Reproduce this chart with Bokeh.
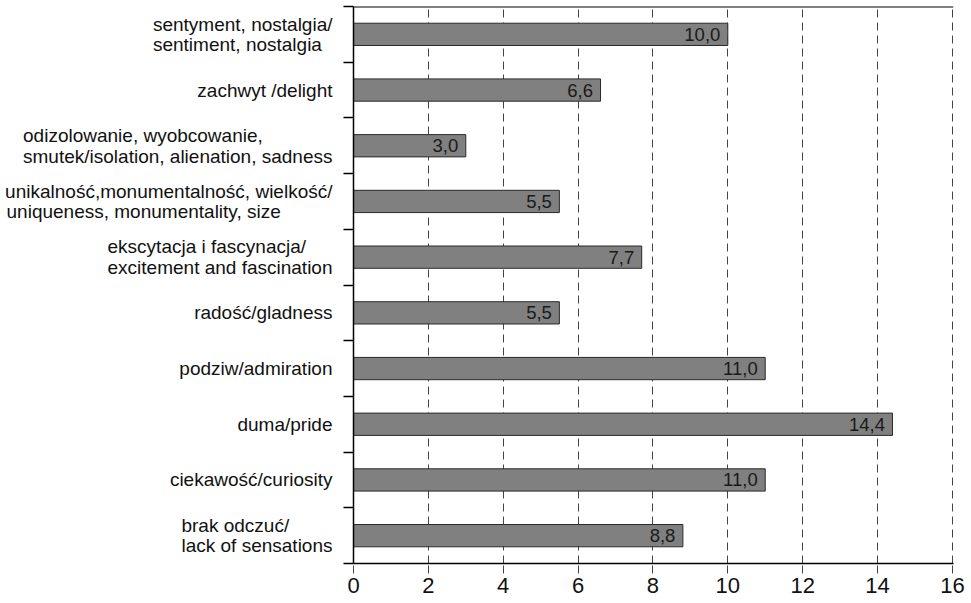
from bokeh.plotting import figure
from bokeh.layouts import row
from bokeh.models import FixedTicker, Range1d, Span, ColumnDataSource
from bokeh.embed import file_html
from bokeh.resources import INLINE
from bokeh.core.properties import value

# categories listed top to bottom (each entry: list of text lines)
categories = [
    ["sentyment, nostalgia/", "sentiment, nostalgia"],
    ["zachwyt /delight"],
    ["odizolowanie, wyobcowanie,", "smutek/isolation, alienation, sadness"],
    ["unikalność,monumentalność, wielkość/", "uniqueness, monumentality, size"],
    ["ekscytacja i fascynacja/", "excitement and fascination"],
    ["radość/gladness"],
    ["podziw/admiration"],
    ["duma/pride"],
    ["ciekawość/curiosity"],
    ["brak odczuć/", "lack of sensations"],
]
values = [10.0, 6.6, 3.0, 5.5, 7.7, 5.5, 11.0, 14.4, 11.0, 8.8]
value_labels = ["10,0", "6,6", "3,0", "5,5", "7,7", "5,5", "11,0", "14,4", "11,0", "8,8"]
x_ticks = [0, 2, 4, 6, 8, 10, 12, 14, 16]

FONT = "Liberation Sans"
LABEL_PX = 19

# Arial / Liberation Sans advance widths (per 1000 em) used to left-justify wrapped labels
_W = {" ": 278, ",": 278, "/": 278, ".": 278, "a": 556, "b": 556, "c": 500, "d": 556,
      "e": 556, "f": 278, "g": 556, "h": 556, "i": 222, "j": 222, "k": 500, "l": 222,
      "m": 833, "n": 556, "o": 556, "p": 556, "q": 556, "r": 333, "s": 500, "t": 278,
      "u": 556, "v": 500, "w": 722, "x": 500, "y": 500, "z": 500, "ś": 500, "ć": 500,
      "ń": 556, "ó": 556, "ą": 556, "ę": 556, "ł": 222, "ż": 500, "ź": 500}


def text_width(s, px):
    return sum(_W.get(ch, 556) for ch in s) * px / 1000.0


n = len(categories)
ypos = [n - 0.5 - i for i in range(n)]
boundaries = list(range(n + 1))

HEIGHT = 600
TOP = 6
BOTTOM = 37
LABEL_W = 333
AXIS_W = 20

# ---- left panel: category labels ----
frame_h = HEIGHT - TOP - BOTTOM
unit_px = frame_h / n
line_h = 20.5
lx, ly, lt = [], [], []
for yc, lines in zip(ypos, categories):
    widths = [text_width(s, LABEL_PX) for s in lines]
    wmax = max(widths)
    k = len(lines)
    for j, (s, w) in enumerate(zip(lines, widths)):
        dy_px = ((k - 1) / 2 - j) * line_h
        lx.append(LABEL_W - 1 - (wmax - w))
        ly.append(yc + dy_px / unit_px)
        lt.append(s)

left = figure(width=LABEL_W, height=HEIGHT, output_backend="svg", toolbar_location=None,
              x_range=Range1d(0, LABEL_W), y_range=Range1d(0, n),
              x_axis_location=None, y_axis_location=None,
              min_border_left=0, min_border_right=0, min_border_top=TOP, min_border_bottom=BOTTOM)
left.outline_line_color = None
left.grid.visible = False
left.text(x=lx, y=ly, text=lt, text_align="right", text_baseline="middle",
          text_font=value(FONT), text_font_size=f"{LABEL_PX}px", text_color="#111111")

# ---- main chart ----
p = figure(width=968 - LABEL_W, height=HEIGHT, output_backend="svg", toolbar_location=None,
           x_range=Range1d(0, 16.03), y_range=Range1d(0, n),
           min_border_left=AXIS_W, min_border_right=15, min_border_top=TOP,
           min_border_bottom=BOTTOM)
p.outline_line_color = None
p.background_fill_color = "white"

src = ColumnDataSource(dict(y=ypos, v=values, lab=value_labels, xl=[v - 0.2 for v in values]))
p.hbar(y="y", right="v", left=0, height=0.4, source=src,
       fill_color="#808080", line_color="#2a2a2a", line_width=1)
p.text(x="xl", y="y", text="lab", source=src, text_align="right", text_baseline="middle",
       text_font=value(FONT), text_font_size="18.5px", text_color="#1a1a1a")

# x axis
p.xaxis.ticker = FixedTicker(ticks=x_ticks)
p.xaxis.axis_line_color = "black"
p.xaxis.axis_line_width = 1.5
p.xaxis.major_tick_in = 0
p.xaxis.major_tick_out = 10
p.xaxis.major_tick_line_color = "#444444"
p.xaxis.major_tick_line_width = 1
p.xaxis.major_tick_line_dash = "8 5"
p.xaxis.minor_tick_line_color = None
p.xaxis.major_label_text_font = FONT
p.xaxis.major_label_text_font_size = "22px"
p.xaxis.major_label_text_color = "#111111"
p.xaxis.major_label_standoff = 4

# y axis: only boundary ticks
p.yaxis.ticker = FixedTicker(ticks=[], minor_ticks=boundaries)
p.yaxis.axis_line_color = "black"
p.yaxis.axis_line_width = 1.5
p.yaxis.major_tick_line_color = None
p.yaxis.minor_tick_in = 0
p.yaxis.minor_tick_out = 10
p.yaxis.minor_tick_line_color = "black"
p.yaxis.minor_tick_line_width = 1.5
p.yaxis.major_label_text_font_size = "0px"
p.yaxis.major_label_standoff = 0

# grid
p.ygrid.grid_line_color = None
p.xgrid.ticker = FixedTicker(ticks=x_ticks[1:])
p.xgrid.grid_line_color = "#444444"
p.xgrid.grid_line_dash = "8 5"
p.xgrid.grid_line_width = 1

p.add_layout(Span(location=n, dimension="width", line_color="black", line_width=2))

layout = row(left, p)
open("out.html", "w").write(file_html(layout, INLINE))
